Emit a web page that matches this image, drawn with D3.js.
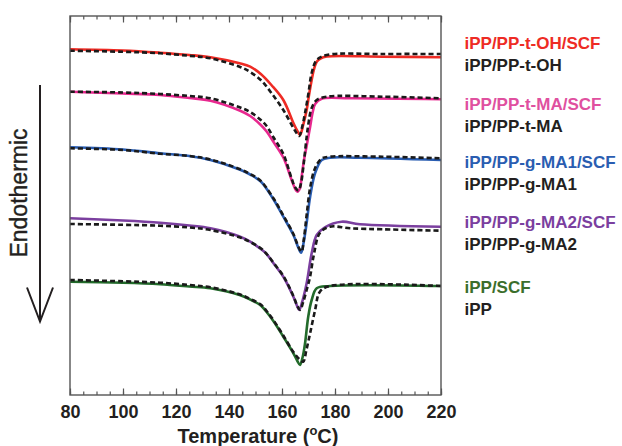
<!DOCTYPE html>
<html>
<head>
<meta charset="utf-8">
<script src="https://cdn.jsdelivr.net/npm/d3@7"></script>
<style>
  html, body { margin: 0; padding: 0; background: #fff; }
  svg { display: block; font-family: "Liberation Sans", Arial, Helvetica, sans-serif; }
</style>
</head>
<body>
<svg id="chart" width="622" height="446"></svg>
<script>
// DSC melting curves (heat flow, arbitrary units, curves offset vertically).
// Each curve: [temperature °C, heat flow a.u.]

// iPP/PP-t-OH with and without SCF
const tOH_SCF = [[80,34.57],[100,34.45],[114,34.23],[125,34.0],[133,33.77],[144,33.17],[148,32.83],[152,32.1],[156,31.0],[160.5,29.5],[164.3,27.2],[165.8,26.4],[166.8,26.0],[168,27.0],[169.3,28.5],[170.2,30.0],[171.2,31.5],[172,32.5],[173.1,33.33],[174.5,33.65],[176.9,33.85],[198,33.83],[220,33.77]];
const tOH = [[80,34.43],[100,34.32],[114,34.17],[125,33.92],[133,33.67],[144,32.83],[148,32.3],[152,31.5],[156,30.2],[160.5,28.5],[164.3,26.7],[165.6,26.15],[166.5,25.9],[167.5,26.7],[168.7,28.2],[170,30.2],[171.2,32.2],[173.1,33.5],[176.9,34.0],[198,34.1],[220,34.1]];

// iPP/PP-t-MA with and without SCF
const tMA_SCF = [[80,30.33],[100,30.15],[114,30.0],[125,29.7],[133,29.43],[144,28.45],[148,27.9],[152,27.0],[154.2,26.35],[156.7,25.35],[160.5,23.75],[163.7,21.45],[165,20.6],[165.8,20.33],[166.8,20.7],[167.4,21.8],[168.3,23.5],[169.3,24.9],[170.6,26.8],[171.6,28.3],[172.5,29.1],[175,29.62],[185.7,29.67],[220,29.57]];
const tMA = [[80,30.33],[100,30.25],[114,30.1],[125,29.9],[133,29.67],[144,28.77],[148,28.3],[152,27.5],[154.2,26.9],[156.7,25.8],[160.5,24.1],[163.7,21.6],[165,20.75],[166.2,20.45],[167.2,21.2],[168,22.7],[169.9,27.0],[171.2,28.7],[173.1,29.5],[176.9,29.83],[198,29.83],[220,29.67]];

// iPP/PP-g-MA1 with and without SCF
const gMA1_SCF = [[80,24.77],[100,24.55],[114,24.17],[125,23.9],[133,23.5],[144,22.55],[148,22.05],[152,21.35],[156.7,19.6],[160.5,17.83],[164.3,16.0],[166.2,14.7],[167.2,14.23],[168.2,15.3],[169.3,17.2],[170.6,19.8],[172.5,22.2],[175,23.5],[178.1,23.73],[189,23.73],[220,23.5]];
const gMA1 = [[80,24.67],[100,24.5],[114,24.12],[125,23.9],[133,23.55],[144,22.6],[148,22.1],[152,21.4],[156.7,19.7],[160.5,17.95],[164.3,16.1],[166.4,14.7],[167.4,14.33],[168.3,15.7],[169.3,18.0],[170.6,20.7],[172.5,22.7],[175,23.65],[178,23.83],[198,23.83],[220,23.67]];

// iPP/PP-g-MA2 with and without SCF
const gMA2_SCF = [[80,17.67],[100,17.45],[114,17.23],[125,16.95],[133,16.67],[144,15.85],[148,15.33],[152,14.6],[154.2,14.1],[157,13.1],[160.5,11.83],[164.3,9.83],[165.7,8.9],[166.5,8.5],[167.5,9.2],[169.3,11.17],[171.2,14.17],[173.1,16.0],[176.2,16.77],[182.5,17.33],[189.4,17.07],[220,16.83]];
const gMA2 = [[80,17.1],[100,17.02],[114,16.93],[125,16.75],[133,16.5],[144,15.77],[148,15.3],[152,14.67],[154.2,14.1],[157,13.15],[160.5,11.9],[164.3,9.9],[165.8,8.9],[166.8,8.5],[168,9.3],[169.3,10.5],[170.6,11.83],[172,14.0],[174.3,16.2],[178.1,16.83],[185.7,16.67],[198,16.57],[220,16.43]];

// iPP with and without SCF
const iPP_SCF = [[80,11.33],[100,11.22],[114,11.07],[125,10.85],[133,10.67],[144,10.0],[148,9.55],[152,8.95],[154.2,8.3],[157,7.3],[160.5,5.83],[164.3,4.17],[165.8,3.4],[166.8,3.0],[167.8,3.8],[168.7,5.17],[169.9,7.83],[171.2,9.5],[173.1,10.67],[178.1,10.9],[220,10.9]];
const iPP = [[80,11.5],[100,11.37],[114,11.23],[125,11.0],[133,10.77],[144,10.07],[148,9.6],[152,9.05],[154.2,8.4],[157,7.4],[160.5,5.95],[164.3,4.3],[166.5,3.6],[168,3.33],[169.2,4.5],[170.6,6.17],[172.5,8.5],[174.3,10.33],[178.1,10.9],[220,10.9]];

// Legend entries: SCF label (coloured) and neat label (black)
const scfLabels = ["iPP/PP-t-OH/SCF", "iPP/PP-t-MA/SCF", "iPP/PP-g-MA1/SCF", "iPP/PP-g-MA2/SCF", "iPP/SCF"];
const neatLabels = ["iPP/PP-t-OH", "iPP/PP-t-MA", "iPP/PP-g-MA1", "iPP/PP-g-MA2", "iPP"];
const scfColors = ["#ee2b24", "#e8288f", "#2a5db1", "#7b3f9f", "#236b2b"];
const legendTextColors = ["#ee2b24", "#e0509f", "#2a5db1", "#7b3f9f", "#3b6e2c"];

// Axis ticks
const xMajorTicks = [80, 100, 120, 140, 160, 180, 200, 220];
const xMinorTicks = d3.range(80, 221, 5);

const scfSeries = [tOH_SCF, tMA_SCF, gMA1_SCF, gMA2_SCF, iPP_SCF];
const neatSeries = [tOH, tMA, gMA1, gMA2, iPP];

const margin = { left: 70, right: 441, top: 16, bottom: 395 };
const svg = d3.select("#chart");

const x = d3.scaleLinear().domain([80, 220]).range([margin.left, margin.right]);
const y = d3.scaleLinear().domain([0, 37.9]).range([margin.bottom, margin.top]);

const line = d3.line()
  .x(d => x(d[0]))
  .y(d => y(d[1]))
  .curve(d3.curveCatmullRom.alpha(0.5));

const plot = svg.append("g");

// coloured (SCF) curves
plot.selectAll("path.scf")
  .data(scfSeries)
  .join("path")
  .attr("class", "scf")
  .attr("d", line)
  .attr("fill", "none")
  .attr("stroke", (d, i) => scfColors[i])
  .attr("stroke-width", 2.6)
  .attr("stroke-linejoin", "round");

// black dashed (neat) curves on top
plot.selectAll("path.neat")
  .data(neatSeries)
  .join("path")
  .attr("class", "neat")
  .attr("d", line)
  .attr("fill", "none")
  .attr("stroke", "#1a1a1a")
  .attr("stroke-width", 2.6)
  .attr("stroke-dasharray", "5,3");

// frame
svg.append("rect")
  .attr("x", margin.left)
  .attr("y", margin.top)
  .attr("width", margin.right - margin.left)
  .attr("height", margin.bottom - margin.top)
  .attr("fill", "none")
  .attr("stroke", "#555")
  .attr("stroke-width", 1.4);

function styleAxis(g) {
  g.select(".domain").remove();
  g.selectAll(".tick line").attr("stroke", "#555").attr("stroke-width", 1.2);
}

// bottom axis: minor ticks, then major ticks with labels
svg.append("g")
  .attr("transform", `translate(0,${margin.bottom})`)
  .call(d3.axisBottom(x).tickValues(xMinorTicks).tickSize(-3.5).tickSizeOuter(0).tickFormat(""))
  .call(styleAxis);

const xb = svg.append("g")
  .attr("transform", `translate(0,${margin.bottom})`)
  .call(d3.axisBottom(x).tickValues(xMajorTicks).tickSize(-6.5).tickSizeOuter(0).tickPadding(10.5).tickFormat(d3.format("d")))
  .call(styleAxis);
xb.selectAll(".tick text")
  .attr("font-size", 18)
  .attr("font-weight", "bold")
  .attr("fill", "#231f20")
  .attr("font-family", "'Liberation Sans', Arial, sans-serif");

// top axis: inward ticks only
svg.append("g")
  .attr("transform", `translate(0,${margin.top})`)
  .call(d3.axisTop(x).tickValues(xMinorTicks).tickSize(-3.5).tickSizeOuter(0).tickFormat(""))
  .call(styleAxis);
svg.append("g")
  .attr("transform", `translate(0,${margin.top})`)
  .call(d3.axisTop(x).tickValues(xMajorTicks).tickSize(-6.5).tickSizeOuter(0).tickFormat(""))
  .call(styleAxis);

// x-axis title
const title = svg.append("text")
  .attr("x", 258)
  .attr("y", 442.5)
  .attr("text-anchor", "middle")
  .attr("font-size", 20)
  .attr("font-weight", "bold")
  .attr("fill", "#231f20");
title.append("tspan").text("Temperature (");
title.append("tspan").attr("font-size", 13).attr("dy", -8).text("o");
title.append("tspan").attr("dy", 8).text("C)");

// endothermic direction arrow
svg.append("text")
  .attr("transform", "translate(27,193) rotate(-90)")
  .attr("text-anchor", "middle")
  .attr("font-size", 23)
  .attr("fill", "#231f20")
  .attr("stroke", "#231f20")
  .attr("stroke-width", 0.4)
  .text("Endothermic");

svg.append("line")
  .attr("x1", 40).attr("x2", 40)
  .attr("y1", 85).attr("y2", 321)
  .attr("stroke", "#231f20").attr("stroke-width", 2);
svg.append("path")
  .attr("d", "M27,287.5 L40,321.5 L53,287.5")
  .attr("fill", "none")
  .attr("stroke", "#231f20")
  .attr("stroke-width", 2);

// legend
const legendTop = [49.3, 110, 168.3, 228.3, 293.3];
const legendGap = 21.5;
const legend = svg.append("g")
  .attr("font-size", 17)
  .attr("font-weight", "bold");
legend.selectAll("text.scf")
  .data(scfLabels)
  .join("text")
  .attr("class", "scf")
  .attr("x", 464.5)
  .attr("y", (d, i) => legendTop[i])
  .attr("fill", (d, i) => legendTextColors[i])
  .text(d => d);
legend.selectAll("text.neat")
  .data(neatLabels)
  .join("text")
  .attr("class", "neat")
  .attr("x", 464.5)
  .attr("y", (d, i) => legendTop[i] + legendGap)
  .attr("fill", "#231f20")
  .text(d => d);
</script>
</body>
</html>
